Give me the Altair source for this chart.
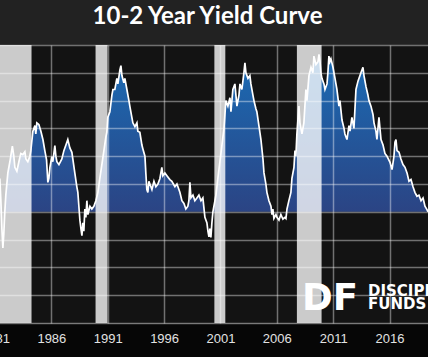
import altair as alt
import pandas as pd

# ---- data ----
years = [
    1981.43, 1981.52, 1981.61, 1981.70, 1981.78, 1981.87, 1981.96, 1982.14, 1982.32, 1982.54,
    1982.67, 1982.76, 1982.94, 1983.12, 1983.29, 1983.47, 1983.65, 1983.74, 1983.91, 1984.09,
    1984.18, 1984.36, 1984.54, 1984.62, 1984.71, 1984.89, 1985.07, 1985.25, 1985.42, 1985.57,
    1985.69, 1985.78, 1985.87, 1986.04, 1986.13, 1986.31, 1986.40, 1986.49, 1986.67, 1986.93,
    1987.11, 1987.29, 1987.46, 1987.64, 1987.82, 1988.08, 1988.26, 1988.35, 1988.44, 1988.53,
    1988.62, 1988.71, 1988.79, 1988.88, 1988.97, 1989.06, 1989.15, 1989.24, 1989.42, 1989.59,
    1989.77, 1989.95, 1990.13, 1990.30, 1990.48, 1990.66, 1990.84, 1990.92, 1991.01, 1991.19,
    1991.37, 1991.46, 1991.63, 1991.81, 1991.90, 1992.08, 1992.17, 1992.26, 1992.43, 1992.52,
    1992.70, 1992.88, 1992.96, 1993.14, 1993.23, 1993.41, 1993.59, 1993.67, 1993.85, 1994.03,
    1994.12, 1994.30, 1994.38, 1994.47, 1994.56, 1994.65, 1994.74, 1994.92, 1995.10, 1995.27,
    1995.45, 1995.63, 1995.80, 1995.89, 1996.07, 1996.25, 1996.51, 1996.69, 1996.96, 1997.14,
    1997.40, 1997.58, 1997.76, 1997.93, 1998.11, 1998.20, 1998.29, 1998.38, 1998.56, 1998.73,
    1998.91, 1999.09, 1999.27, 1999.44, 1999.62, 1999.80, 1999.89, 1999.98, 2000.06, 2000.15,
    2000.24, 2000.33, 2000.42, 2000.60, 2000.77, 2000.95, 2001.13, 2001.31, 2001.48, 2001.66,
    2001.84, 2001.93, 2002.10, 2002.28, 2002.46, 2002.64, 2002.73, 2002.90, 2003.08, 2003.17,
    2003.26, 2003.44, 2003.61, 2003.70, 2003.88, 2003.97, 2004.15, 2004.23, 2004.41, 2004.59,
    2004.77, 2004.86, 2005.03, 2005.12, 2005.30, 2005.48, 2005.57, 2005.65, 2005.74, 2005.92,
    2006.01, 2006.19, 2006.36, 2006.54, 2006.72, 2006.81, 2006.90, 2007.07, 2007.25, 2007.34,
    2007.52, 2007.61, 2007.69, 2007.78, 2007.96, 2008.05, 2008.23, 2008.40, 2008.58, 2008.67,
    2008.85, 2009.03, 2009.20, 2009.29, 2009.47, 2009.65, 2009.74, 2009.83, 2009.91, 2010.00,
    2010.18, 2010.27, 2010.45, 2010.53, 2010.62, 2010.71, 2010.80, 2010.98, 2011.16, 2011.33,
    2011.51, 2011.60, 2011.78, 2011.96, 2012.04, 2012.22, 2012.40, 2012.49, 2012.66, 2012.84,
    2013.02, 2013.20, 2013.46, 2013.64, 2013.73, 2013.91, 2014.08, 2014.17, 2014.35, 2014.53,
    2014.62, 2014.79, 2014.88, 2015.06, 2015.24, 2015.42, 2015.59, 2015.77, 2016.04, 2016.22,
    2016.39, 2016.48, 2016.57, 2016.66, 2016.84, 2017.01, 2017.19, 2017.37, 2017.55, 2017.72,
    2017.90, 2018.08, 2018.25, 2018.43, 2018.61, 2018.79, 2018.97, 2019.14, 2019.32, 2019.41,
]
spread = [
    0.60, 0.20, -0.30, -0.65, -0.40, 0.00, 0.30, 0.70, 0.90, 1.18,
    1.00, 0.80, 0.73, 0.90, 1.05, 1.03, 1.08, 0.95, 0.90, 1.00,
    1.10, 1.45, 1.55, 1.40, 1.60, 1.57, 1.45, 1.30, 1.10, 0.94,
    0.53, 0.60, 0.80, 0.99, 0.90, 1.19, 1.00, 0.90, 0.85, 0.95,
    1.10, 1.20, 1.30, 1.15, 1.07, 0.70, 0.45, 0.35, 0.10, -0.15,
    -0.30, -0.43, -0.20, -0.35, 0.05, -0.10, 0.20, -0.05, 0.10, 0.05,
    0.10, 0.20, 0.35, 0.60, 0.85, 1.10, 1.35, 1.43, 1.70, 1.80,
    2.10, 2.20, 2.20, 2.40, 2.30, 2.55, 2.63, 2.45, 2.32, 2.40,
    2.20, 2.00, 1.90, 1.70, 1.60, 1.53, 1.60, 1.45, 1.43, 1.20,
    1.13, 1.00, 0.70, 0.40, 0.35, 0.55, 0.50, 0.40, 0.55, 0.45,
    0.50, 0.60, 0.80, 0.65, 0.70, 0.65, 0.58, 0.55, 0.45, 0.50,
    0.35, 0.20, 0.15, 0.05, 0.10, 0.20, 0.53, 0.25, 0.30, 0.20,
    0.25, 0.30, 0.20, 0.25, -0.10, -0.20, -0.35, -0.45, -0.30, -0.46,
    -0.20, 0.00, 0.10, 0.30, 0.60, 0.90, 1.20, 1.50, 2.00, 1.90,
    2.05, 1.80, 2.20, 2.30, 1.90, 2.10, 2.30, 2.20, 2.50, 2.68,
    2.50, 2.40, 2.45, 2.30, 2.10, 2.00, 1.85, 1.80, 1.55, 1.30,
    0.95, 0.70, 0.50, 0.35, 0.20, 0.10, -0.05, 0.05, -0.12, -0.05,
    -0.10, -0.15, -0.05, -0.13, -0.10, -0.12, 0.05, 0.20, 0.35, 0.60,
    0.80, 1.10, 1.00, 1.40, 1.90, 1.60, 1.40, 1.60, 2.20, 2.00,
    2.45, 2.60, 2.50, 2.80, 2.65, 2.70, 2.83, 2.70, 2.50, 2.40,
    2.30, 2.20, 2.30, 2.50, 2.80, 2.70, 2.75, 2.60, 2.40, 2.20,
    1.90, 2.00, 1.65, 1.50, 1.40, 1.30, 1.55, 1.45, 1.70, 1.50,
    2.20, 2.35, 2.50, 2.60, 2.45, 2.25, 2.10, 2.00, 1.90, 1.75,
    1.60, 1.45, 1.30, 1.70, 1.30, 1.20, 1.05, 1.00, 0.89, 0.76,
    1.00, 1.25, 1.30, 1.10, 1.07, 0.95, 0.85, 0.80, 0.70, 0.55,
    0.58, 0.45, 0.35, 0.28, 0.30, 0.20, 0.25, 0.10, 0.04, 0.00,
]
assert len(years) == len(spread)

band_start = [1980.5, 1989.92, 2000.46, 2007.78]
band_end = [1984.24, 1990.98, 2001.43, 2009.97]

tick_years = [1981, 1986, 1991, 1996, 2001, 2006, 2011, 2016]
grid_levels = [-2.0, -1.5, -1.0, -0.5, 0.0, 0.5, 1.0, 1.5, 2.0, 2.5, 3.0]

title_text = "10-2 Year Yield Curve"
logo_text = ["DF"]
brand_top = ["DISCIPLINE"]
brand_bottom = ["FUNDS"]

# ---- chart ----
df = pd.DataFrame({"year": years, "spread": spread})
bands = pd.DataFrame({"start": band_start, "end": band_end})

x_scale = alt.Scale(domain=[1981.0, 2019.41], nice=False, zero=False)
y_scale = alt.Scale(domain=[-2.0, 3.0], nice=False, zero=False)

x_axis = alt.Axis(
    values=tick_years, format="d", title=None, ticks=False, domain=False,
    labelFlush=False, labelOverlap=False, labelColor="#e2e2e2",
    labelFont="Liberation Sans", labelFontSize=13, labelPadding=9,
    grid=True, gridColor="#ffffff", gridOpacity=0.4, gridWidth=1.5, zindex=1,
)
y_axis = alt.Axis(
    values=grid_levels, title=None, ticks=False, domain=False, labels=False,
    grid=True, gridColor="#ffffff", gridOpacity=0.4, gridWidth=1.5, zindex=1,
)

blue = alt.Gradient(
    gradient="linear",
    stops=[alt.GradientStop(color="#1a6cb5", offset=0),
           alt.GradientStop(color="#2b4484", offset=1)],
    x1=0, x2=0, y1=0, y2=1,
)

base = alt.Chart(df).encode(x=alt.X("year:Q", scale=x_scale, axis=x_axis))

area = base.transform_calculate(
    pos="max(datum.spread, 0)", zero="0"
).mark_area(color=blue).encode(
    y=alt.Y("pos:Q", scale=y_scale, axis=y_axis),
    y2="zero:Q",
)

shade = alt.Chart(bands).mark_rect(color="#ffffff", opacity=0.78, clip=True).encode(
    x=alt.X("start:Q", scale=x_scale, axis=x_axis), x2="end:Q"
)

line = base.mark_line(color="#ffffff", strokeWidth=1.7).encode(
    y=alt.Y("spread:Q", scale=y_scale, axis=y_axis)
)

# black strip under the plot where the year labels sit
footer = alt.Chart(pd.DataFrame({"k": [0]})).mark_rect(color="#060606").encode(
    x=alt.value(0), x2=alt.value(433), y=alt.value(279), y2=alt.value(313)
)

logo = alt.Chart(pd.DataFrame({"t": logo_text})).mark_text(
    font="DejaVu Sans", fontWeight="bold", fontSize=37, color="#ffffff",
    align="left", baseline="alphabetic"
).encode(text="t:N", x=alt.value(307), y=alt.value(265))

brand1 = alt.Chart(pd.DataFrame({"t": brand_top})).mark_text(
    font="DejaVu Sans", fontWeight="bold", fontSize=15, color="#ffffff",
    align="left", baseline="alphabetic"
).encode(text="t:N", x=alt.value(373), y=alt.value(250.5))

brand2 = alt.Chart(pd.DataFrame({"t": brand_bottom})).mark_text(
    font="DejaVu Sans", fontWeight="bold", fontSize=15, color="#ffffff",
    align="left", baseline="alphabetic"
).encode(text="t:N", x=alt.value(373), y=alt.value(264))

chart = alt.layer(area, shade, line, logo, brand1, brand2, footer).properties(
    width=433,
    height=278,
    padding={"left": -5, "top": 45, "right": 0, "bottom": 34},
    autosize=alt.AutoSizeParams(type="none"),
    background="#222222",
    title=alt.TitleParams(
        text=title_text, color="#ffffff", font="Lato", fontSize=24,
        fontWeight="bold", anchor="middle", frame="group", baseline="alphabetic",
        offset=19, dx=-4, dy=22, zindex=2,
    ),
).configure_view(fill="#131313", strokeWidth=0)

chart.save("out.html", embed_options={"renderer": "svg", "actions": False})
